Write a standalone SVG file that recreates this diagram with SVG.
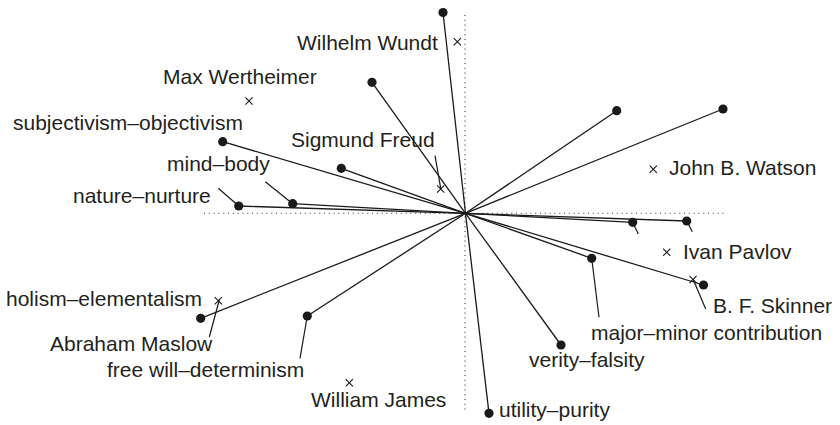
<svg xmlns="http://www.w3.org/2000/svg" width="840" height="425" viewBox="0 0 840 425">
  <style>
    .axis { stroke: #333; stroke-width: 1.1; stroke-dasharray: 1 3.8; fill: none; }
    .vec { stroke: #1a1a1a; stroke-width: 1.3; fill: none; }
    .lead { stroke: #1a1a1a; stroke-width: 1.2; fill: none; }
    .tip { fill: #1a1a1a; }
    .cross { stroke: #1a1a1a; stroke-width: 1.1; fill: none; }
    text { font-family: "Liberation Sans", Arial, Helvetica, sans-serif; font-size: 21px; fill: #231f20; }
  </style>
  <defs>
    <path id="x" class="cross" d="M-3.6,-3.6 L3.6,3.6 M-3.6,3.6 L3.6,-3.6"/>
  </defs>
  <rect width="840" height="425" fill="#ffffff"/>

  <!-- dotted axes -->
  <g id="axes">
    <line class="axis" x1="204" y1="213.3" x2="724" y2="213.3"/>
    <line class="axis" x1="465" y1="15" x2="465" y2="412"/>
  </g>

  <!-- dimension vectors from the origin and label leaders -->
  <g id="connectors">
    <g class="vec">
      <line x1="465.5" y1="213.3" x2="443" y2="12.5"/>
      <line x1="465.5" y1="213.3" x2="372" y2="82.3"/>
      <line x1="465.5" y1="213.3" x2="222.7" y2="141.7"/>
      <line x1="465.5" y1="213.3" x2="341.3" y2="168.3"/>
      <line x1="465.5" y1="213.3" x2="292.7" y2="203.7"/>
      <line x1="465.5" y1="213.3" x2="238.7" y2="206"/>
      <line x1="465.5" y1="213.3" x2="616.7" y2="110.7"/>
      <line x1="465.5" y1="213.3" x2="723" y2="109"/>
      <line x1="465.5" y1="213.3" x2="632.7" y2="222.3"/>
      <line x1="465.5" y1="213.3" x2="686.7" y2="221"/>
      <line x1="465.5" y1="213.3" x2="591.7" y2="258.3"/>
      <line x1="465.5" y1="213.3" x2="703.5" y2="285"/>
      <line x1="465.5" y1="213.3" x2="561" y2="345"/>
      <line x1="465.5" y1="213.3" x2="489" y2="413.3"/>
      <line x1="465.5" y1="213.3" x2="307.3" y2="316"/>
      <line x1="465.5" y1="213.3" x2="200.7" y2="318.3"/>
    </g>
    <g class="lead">
      <line x1="265.3" y1="181.7" x2="292.7" y2="203.7"/>
      <line x1="218.3" y1="188.3" x2="238.7" y2="206"/>
      <line x1="435" y1="155.7" x2="441" y2="190"/>
      <line x1="632.7" y1="222.3" x2="638.3" y2="234"/>
      <line x1="686.7" y1="221" x2="692.3" y2="231.7"/>
      <line x1="591.7" y1="258.3" x2="599" y2="317.3"/>
      <line x1="693" y1="279" x2="705.7" y2="309"/>
      <line x1="219.3" y1="300" x2="209.3" y2="337"/>
      <line x1="307.3" y1="316" x2="300" y2="358.3"/>
    </g>
  </g>

  <!-- dimension endpoints -->
  <g id="dimensions">
    <g id="d-top" class="tip"><circle cx="443" cy="12.5" r="4.6"/></g>
    <g id="d-upper-left" class="tip"><circle cx="372" cy="82.3" r="4.6"/></g>
    <g id="subjectivism-objectivism">
      <circle class="tip" cx="222.7" cy="141.7" r="4.6"/>
      <text x="13" y="130">subjectivism–objectivism</text>
    </g>
    <g id="d-mid-left" class="tip"><circle cx="341.3" cy="168.3" r="4.6"/></g>
    <g id="mind-body">
      <circle class="tip" cx="292.7" cy="203.7" r="4.6"/>
      <text x="167" y="171">mind–body</text>
    </g>
    <g id="nature-nurture">
      <circle class="tip" cx="238.7" cy="206" r="4.6"/>
      <text x="73" y="203">nature–nurture</text>
    </g>
    <g id="d-upper-right-1" class="tip"><circle cx="616.7" cy="110.7" r="4.6"/></g>
    <g id="d-upper-right-2" class="tip"><circle cx="723" cy="109" r="4.6"/></g>
    <g id="d-right-1" class="tip"><circle cx="632.7" cy="222.3" r="4.6"/></g>
    <g id="d-right-2" class="tip"><circle cx="686.7" cy="221" r="4.6"/></g>
    <g id="major-minor-contribution">
      <circle class="tip" cx="591.7" cy="258.3" r="4.6"/>
      <text x="591" y="340">major–minor contribution</text>
    </g>
    <g id="d-lower-right" class="tip"><circle cx="703.5" cy="285" r="4.6"/></g>
    <g id="verity-falsity">
      <circle class="tip" cx="561" cy="345" r="4.6"/>
      <text x="529" y="367">verity–falsity</text>
    </g>
    <g id="utility-purity">
      <circle class="tip" cx="489" cy="413.3" r="4.6"/>
      <text x="499" y="417">utility–purity</text>
    </g>
    <g id="free-will-determinism">
      <circle class="tip" cx="307.3" cy="316" r="4.6"/>
      <text x="107" y="377">free will–determinism</text>
    </g>
    <g id="holism-elementalism">
      <circle class="tip" cx="200.7" cy="318.3" r="4.6"/>
      <text x="6" y="306">holism–elementalism</text>
    </g>
  </g>

  <!-- psychologists -->
  <g id="psychologists">
    <g id="wundt"><use href="#x" x="457.3" y="41.7"/><text x="297" y="49.5">Wilhelm Wundt</text></g>
    <g id="wertheimer"><use href="#x" x="249" y="101"/><text x="163" y="84">Max Wertheimer</text></g>
    <g id="freud"><use href="#x" x="440.7" y="189"/><text x="291" y="147">Sigmund Freud</text></g>
    <g id="watson"><use href="#x" x="653.3" y="169.3"/><text x="669" y="175">John B. Watson</text></g>
    <g id="pavlov"><use href="#x" x="666.7" y="252.3"/><text x="683" y="259">Ivan Pavlov</text></g>
    <g id="skinner"><use href="#x" x="693" y="279.5"/><text x="713" y="313">B. F. Skinner</text></g>
    <g id="maslow"><use href="#x" x="218.3" y="300.7"/><text x="50" y="351">Abraham Maslow</text></g>
    <g id="james"><use href="#x" x="349.3" y="382.7"/><text x="311" y="407">William James</text></g>
  </g>
</svg>
